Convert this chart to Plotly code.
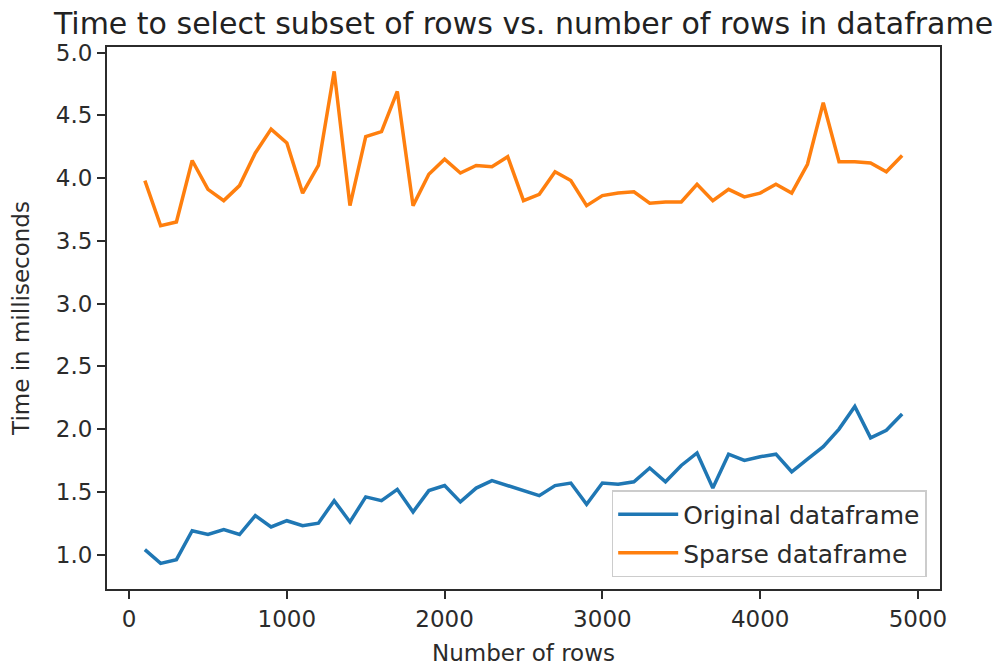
import plotly.graph_objects as go

# Number of rows in each test dataframe
n_rows = [100, 200, 300, 400, 500, 600, 700, 800, 900, 1000,
          1100, 1200, 1300, 1400, 1500, 1600, 1700, 1800, 1900, 2000,
          2100, 2200, 2300, 2400, 2500, 2600, 2700, 2800, 2900, 3000,
          3100, 3200, 3300, 3400, 3500, 3600, 3700, 3800, 3900, 4000,
          4100, 4200, 4300, 4400, 4500, 4600, 4700, 4800, 4900]

# Selection time (ms) for the dense dataframe
original_ms = [1.04, 0.93, 0.96, 1.19, 1.16, 1.20, 1.16, 1.31, 1.22, 1.27,
               1.23, 1.25, 1.43, 1.26, 1.46, 1.43, 1.52, 1.34, 1.51, 1.55,
               1.42, 1.53, 1.59, 1.55, 1.51, 1.47, 1.55, 1.57, 1.40, 1.57,
               1.56, 1.58, 1.69, 1.58, 1.71, 1.81, 1.53, 1.80, 1.75, 1.78,
               1.80, 1.66, 1.76, 1.86, 2.00, 2.18, 1.93, 1.99, 2.12]

# Selection time (ms) for the sparse dataframe
sparse_ms = [3.98, 3.62, 3.65, 4.14, 3.91, 3.82, 3.94, 4.20, 4.39, 4.28,
             3.88, 4.10, 4.85, 3.78, 4.33, 4.37, 4.69, 3.78, 4.03, 4.15,
             4.04, 4.10, 4.09, 4.17, 3.82, 3.87, 4.05, 3.98, 3.78, 3.86,
             3.88, 3.89, 3.80, 3.81, 3.81, 3.95, 3.82, 3.91, 3.85, 3.88,
             3.95, 3.88, 4.11, 4.60, 4.13, 4.13, 4.12, 4.05, 4.18]

x_ticks = [0, 1000, 2000, 3000, 4000, 5000]
y_ticks = [1.0, 1.5, 2.0, 2.5, 3.0, 3.5, 4.0, 4.5, 5.0]

FONT = "DejaVu Sans"
AXIS_COLOR = "#2b2b2b"
TEXT_COLOR = "#2b2b2b"

fig = go.Figure()
fig.add_trace(go.Scatter(x=n_rows, y=original_ms, mode="lines",
                         name="Original dataframe", legendgroup="a",
                         line=dict(color="#1f77b4", width=3.5)))
fig.add_trace(go.Scatter(x=n_rows, y=sparse_ms, mode="lines",
                         name="Sparse dataframe", legendgroup="b",
                         line=dict(color="#ff7f0e", width=3.5)))

axis_common = dict(
    showgrid=False, zeroline=False, automargin=False,
    showline=True, linecolor=AXIS_COLOR, linewidth=2, mirror=True,
    ticks="outside", ticklen=8, tickwidth=2, tickcolor=AXIS_COLOR,
    tickfont=dict(family=FONT, size=23, color=TEXT_COLOR),
)

fig.update_layout(
    width=996, height=668,
    margin=dict(l=107, r=56, t=47, b=79),
    paper_bgcolor="white", plot_bgcolor="white",
    font=dict(family=FONT, color=TEXT_COLOR),
    title=dict(text="Time to select subset of rows vs. number of rows in dataframe",
               font=dict(family=FONT, size=30, color="#222222"),
               x=(107 + 940) / 2 / 996, xanchor="center",
               yref="container", y=1 - 23 / 668, yanchor="middle"),
    xaxis=dict(axis_common, range=[-140, 5140], tickvals=x_ticks,
               ticktext=[str(v) for v in x_ticks],
               title=dict(text="Number of rows", standoff=14,
                          font=dict(family=FONT, size=23, color=TEXT_COLOR))),
    yaxis=dict(axis_common, range=[0.726, 5.044], tickvals=y_ticks,
               ticktext=[f"{v:.1f}" for v in y_ticks],
               title=dict(text="Time in milliseconds", standoff=20,
                          font=dict(family=FONT, size=23, color=TEXT_COLOR))),
    legend=dict(x=0.984, xanchor="right", y=0.022, yanchor="bottom",
                bgcolor="rgba(255,255,255,0.8)", bordercolor="#cccccc",
                borderwidth=1.5, tracegroupgap=3, traceorder="grouped",
                itemwidth=60,
                font=dict(family=FONT, size=25, color=TEXT_COLOR)),
    showlegend=True,
)

fig.write_html("out.html")
